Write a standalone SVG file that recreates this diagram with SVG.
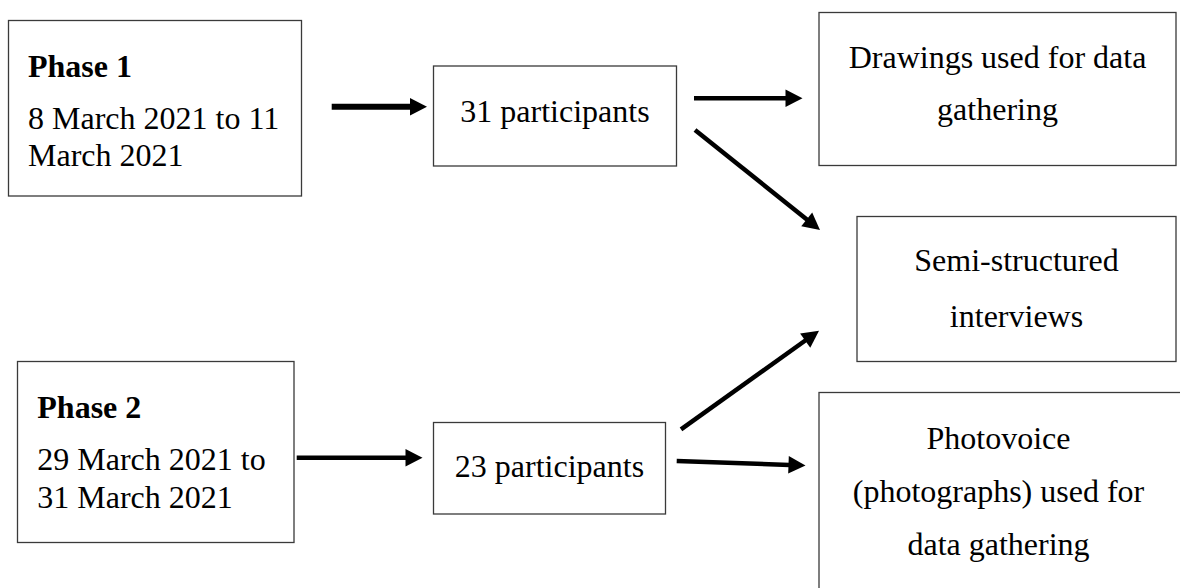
<svg xmlns="http://www.w3.org/2000/svg" width="1180" height="588" viewBox="0 0 1180 588">
  <style>
    .box { fill: #ffffff; stroke: #3a3a3a; stroke-width: 1.3; }
    .t { font-family: "Liberation Serif", "Times New Roman", serif; font-size: 32px; fill: #000; }
    .b { font-weight: bold; }
    .c { text-anchor: middle; }
    .arrow { stroke: #000; stroke-width: 4.5; fill: none; marker-end: url(#head); }
  </style>
  <defs>
    <marker id="head" markerUnits="userSpaceOnUse" markerWidth="17" markerHeight="18" refX="1" refY="8.75" orient="auto" overflow="visible">
      <path d="M0,0 L17,8.75 L0,17.5 Z" fill="#000"/>
    </marker>
  </defs>

  <rect width="1180" height="588" fill="#ffffff"/>

  <!-- Phase 1 -->
  <g id="phase1">
    <rect class="box" x="8.5" y="20.5" width="293" height="175.5"/>
    <text class="t b" x="28" y="77">Phase 1</text>
    <text class="t" x="28" y="129">8 March 2021 to 11</text>
    <text class="t" x="28" y="166">March 2021</text>
  </g>

  <g id="p31">
    <rect class="box" x="433.5" y="66" width="243" height="100"/>
    <text class="t c" x="555" y="122">31 participants</text>
  </g>

  <g id="drawings">
    <rect class="box" x="819" y="12.5" width="357" height="153"/>
    <text class="t c" x="997.5" y="68">Drawings used for data</text>
    <text class="t c" x="997.5" y="120">gathering</text>
  </g>

  <g id="interviews">
    <rect class="box" x="857" y="216.5" width="319" height="145"/>
    <text class="t c" x="1016.5" y="271">Semi-structured</text>
    <text class="t c" x="1016.5" y="326.5">interviews</text>
  </g>

  <!-- Phase 2 -->
  <g id="phase2">
    <rect class="box" x="17.5" y="361.5" width="276.5" height="181"/>
    <text class="t b" x="37.3" y="418">Phase 2</text>
    <text class="t" x="37.3" y="470">29 March 2021 to</text>
    <text class="t" x="37.3" y="507.5">31 March 2021</text>
  </g>

  <g id="p23">
    <rect class="box" x="433.5" y="422.5" width="232" height="91.5"/>
    <text class="t c" x="549.5" y="477">23 participants</text>
  </g>

  <g id="photovoice">
    <rect class="box" x="819" y="392.5" width="380" height="220"/>
    <text class="t c" x="998.5" y="448.5">Photovoice</text>
    <text class="t c" x="998.5" y="502">(photographs) used for</text>
    <text class="t c" x="998.5" y="555">data gathering</text>
  </g>

  <!-- connectors -->
  <g id="connectors">
    <line class="arrow" x1="331.7" y1="106.7" x2="411" y2="106.7" style="stroke-width:6"/>
    <line class="arrow" x1="694" y1="98.3" x2="786.5" y2="98.3"/>
    <line class="arrow" x1="695" y1="130" x2="807.5" y2="220"/>
    <line class="arrow" x1="296.7" y1="457.7" x2="406.5" y2="457.7"/>
    <line class="arrow" x1="681" y1="429.3" x2="806" y2="340"/>
    <line class="arrow" x1="676.7" y1="461" x2="789.5" y2="464.9"/>
  </g>
</svg>
